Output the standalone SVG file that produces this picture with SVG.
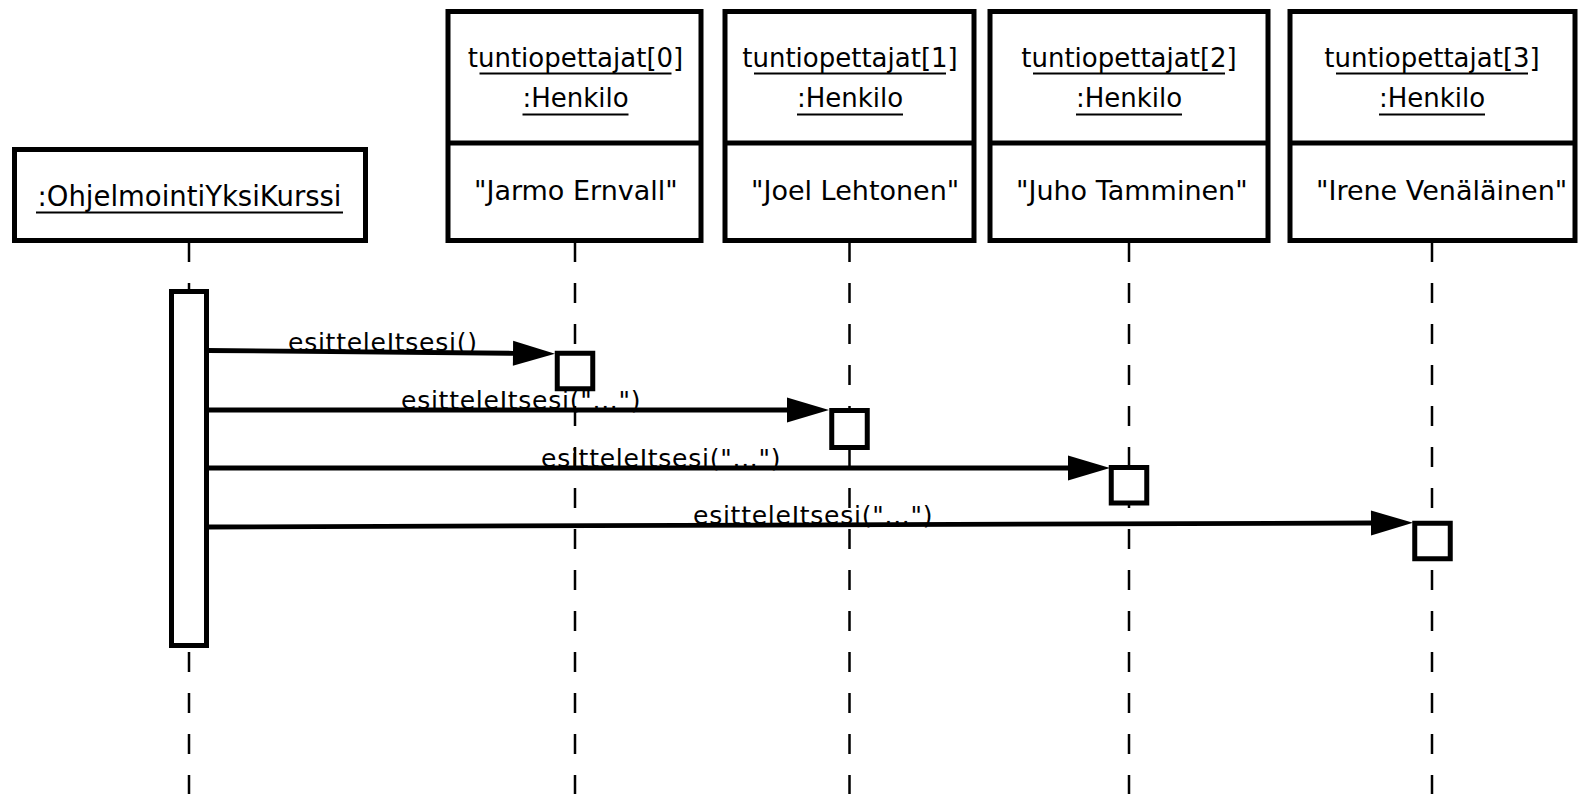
<svg xmlns="http://www.w3.org/2000/svg" width="1579" height="794" viewBox="0 0 1579 794">
<style>
.box{fill:#fff;stroke:#000;stroke-width:5}
.div{stroke:#000;stroke-width:5}
.t{font-family:"DejaVu Sans","Liberation Sans",sans-serif;fill:#000}
.title{font-size:26px;text-anchor:middle}
.val{font-size:27px}
.ul{stroke:#000;stroke-width:2}
.life{stroke:#000;stroke-width:2.5;stroke-dasharray:20 21;fill:none}
.msg{stroke:#000;stroke-width:4.8;fill:none;marker-end:url(#ah)}
.lbl{font-size:25px;letter-spacing:0.75px}
.act{fill:#fff;stroke:#000;stroke-width:5}
</style>
<defs>
<marker id="ah" markerUnits="userSpaceOnUse" markerWidth="44" markerHeight="28" refX="0" refY="12.5" orient="auto" viewBox="0 0 44 25" overflow="visible">
<path d="M0,0 L42,12.5 L0,25 Z" fill="#000"/>
</marker>
</defs>
<g id="lifelines">
<line class="life" x1="189" y1="242" x2="189" y2="794"/>
<line class="life" x1="575" y1="242" x2="575" y2="794"/>
<line class="life" x1="849.5" y1="242" x2="849.5" y2="794"/>
<line class="life" x1="1129" y1="242" x2="1129" y2="794"/>
<line class="life" x1="1432" y1="242" x2="1432" y2="794"/>
</g>
<g id="kurssi">
<rect class="box" x="14.5" y="149.5" width="351" height="91"/>
<text class="t" x="189.5" y="206" font-size="27.5" text-anchor="middle">:OhjelmointiYksiKurssi</text>
<line class="ul" x1="36" y1="212.5" x2="343" y2="212.5"/>
<rect class="act" x="171.5" y="291.5" width="35" height="354"/>
</g>
<g id="henkilo0">
<rect class="box" x="448" y="11.5" width="253" height="229"/>
<line class="div" x1="448" y1="143" x2="701" y2="143"/>
<text class="t title" x="575.5" y="67">tuntiopettajat[0]</text>
<line class="ul" x1="479.5" y1="73.5" x2="671.5" y2="73.5"/>
<text class="t title" x="575.5" y="107">:Henkilo</text>
<line class="ul" x1="522.5" y1="114.5" x2="628.5" y2="114.5"/>
<text class="t val" x="474" y="200">"Jarmo Ernvall"</text>
<rect class="act" x="557.25" y="353.25" width="35.5" height="35.5"/>
</g>
<g id="henkilo1">
<rect class="box" x="725" y="11.5" width="249" height="229"/>
<line class="div" x1="725" y1="143" x2="974" y2="143"/>
<text class="t title" x="850" y="67">tuntiopettajat[1]</text>
<line class="ul" x1="754" y1="73.5" x2="946" y2="73.5"/>
<text class="t title" x="850" y="107">:Henkilo</text>
<line class="ul" x1="797" y1="114.5" x2="903" y2="114.5"/>
<text class="t val" x="751" y="200">"Joel Lehtonen"</text>
<rect class="act" x="831.75" y="410.5" width="35.5" height="37"/>
</g>
<g id="henkilo2">
<rect class="box" x="990" y="11.5" width="278" height="229"/>
<line class="div" x1="990" y1="143" x2="1268" y2="143"/>
<text class="t title" x="1129" y="67">tuntiopettajat[2]</text>
<line class="ul" x1="1033" y1="73.5" x2="1225" y2="73.5"/>
<text class="t title" x="1129" y="107">:Henkilo</text>
<line class="ul" x1="1076" y1="114.5" x2="1182" y2="114.5"/>
<text class="t val" x="1016" y="200">"Juho Tamminen"</text>
<rect class="act" x="1111.25" y="467.5" width="35.5" height="35.5"/>
</g>
<g id="henkilo3">
<rect class="box" x="1290" y="11.5" width="285" height="229"/>
<line class="div" x1="1290" y1="143" x2="1575" y2="143"/>
<text class="t title" x="1432" y="67">tuntiopettajat[3]</text>
<line class="ul" x1="1336" y1="73.5" x2="1528" y2="73.5"/>
<text class="t title" x="1432" y="107">:Henkilo</text>
<line class="ul" x1="1379" y1="114.5" x2="1485" y2="114.5"/>
<text class="t val" x="1316" y="200">"Irene Venäläinen"</text>
<rect class="act" x="1414.75" y="523.25" width="35.5" height="35.5"/>
</g>
<g id="connectors">
<line class="msg" x1="207" y1="350.5" x2="513" y2="353.3"/>
<line class="msg" x1="207" y1="410" x2="787" y2="410"/>
<line class="msg" x1="207" y1="468" x2="1068" y2="468"/>
<line class="msg" x1="207" y1="527" x2="1371" y2="523"/>
<text class="t lbl" x="288" y="350.5">esitteleItsesi()</text>
<text class="t lbl" x="401" y="408.5">esitteleItsesi("...")</text>
<text class="t lbl" x="541" y="466.5">esitteleItsesi("...")</text>
<text class="t lbl" x="693" y="523.5">esitteleItsesi("...")</text>
</g>
</svg>
